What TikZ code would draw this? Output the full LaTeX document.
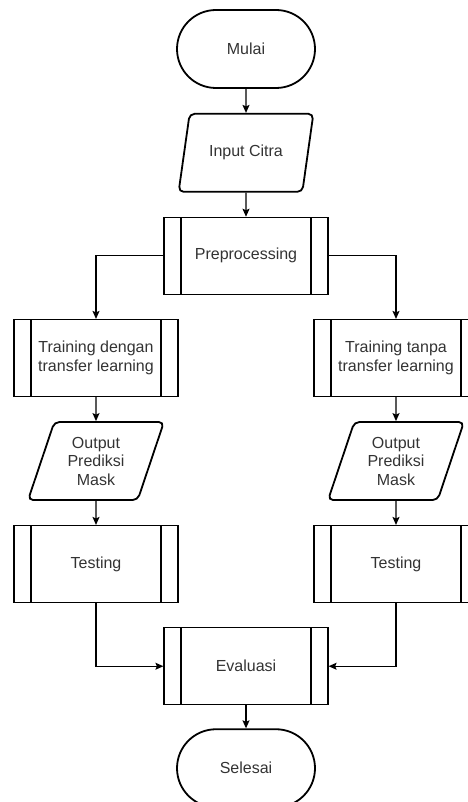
\documentclass[tikz,border=0pt]{standalone}
\usepackage{fontspec}
\setmainfont{Liberation Sans}
\usepackage{xcolor}
\usetikzlibrary{positioning,shapes.geometric,arrows.meta}
\definecolor{txtgray}{RGB}{51,51,51}

\begin{document}
\begin{tikzpicture}[>={Stealth[length=8pt,width=7pt,inset=1.5pt]},node distance=24pt,
	font=\fontsize{16}{18.5}\selectfont,
	terminal/.style={draw,line width=1.8pt,rectangle,rounded corners=39pt,minimum width=138pt,minimum height=78pt,text=txtgray},
	io/.style={draw,line width=1.8pt,trapezium,trapezium left angle=70,trapezium right angle=110,trapezium stretches=true,rounded corners=5pt,minimum width=136pt,minimum height=78pt,align=center,text=txtgray},
	process/.style={draw,line width=1.2pt,rectangle,minimum width=164pt,minimum height=77pt,align=center,text=txtgray,
		path picture={\draw[line width=1.2pt] ([xshift=17pt]path picture bounding box.north west) -- ([xshift=17pt]path picture bounding box.south west)
			([xshift=-17pt]path picture bounding box.north east) -- ([xshift=-17pt]path picture bounding box.south east);}},
	line/.style={draw,line width=1.2pt}]
	\useasboundingbox (0,0) rectangle (467pt,-802pt);

	\node[terminal] (mulai) at (246pt,-49pt) {Mulai};
	\node[io] (input) [below=of mulai] {Input Citra};
	\node[process] (prep) [below=of input] {Preprocessing};
	\node[process] (trainl) [below=of prep,xshift=-150pt] {Training dengan\\transfer learning};
	\node[process] (trainr) [below=of prep,xshift=150pt] {Training tanpa\\transfer learning};
	\node[io] (outl) [below=of trainl] {Output\\Prediksi\\Mask};
	\node[io] (outr) [below=of trainr] {Output\\Prediksi\\Mask};
	\node[process] (testl) [below=of outl] {Testing};
	\node[process] (testr) [below=of outr] {Testing};
	\node[process] (eval) [below=of testl,xshift=150pt] {Evaluasi};
	\node[terminal] (selesai) [below=23pt of eval] {Selesai};

	\draw[line,->] (mulai) -- (input);
	\draw[line,->] (input) -- (prep);
	\draw[line,->] (prep.west) -| (trainl);
	\draw[line,->] (prep.east) -| (trainr);
	\draw[line,->] (trainl) -- (outl);
	\draw[line,->] (trainr) -- (outr);
	\draw[line,->] (outl) -- (testl);
	\draw[line,->] (outr) -- (testr);
	\draw[line,->] (testl) |- (eval.west);
	\draw[line,->] (testr) |- (eval.east);
	\draw[line,->] (eval) -- (selesai);
\end{tikzpicture}
\end{document}
